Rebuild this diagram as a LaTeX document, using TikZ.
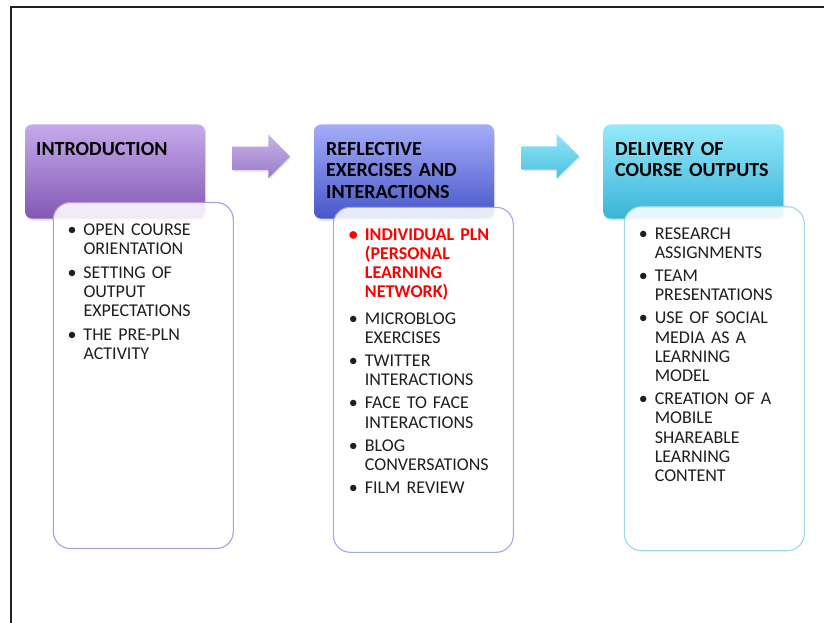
\documentclass[tikz,border=0pt]{standalone}
\usepackage{fontspec}
\setmainfont{Carlito}
\usetikzlibrary{shadows}
\definecolor{hAtop}{HTML}{C5AAEB}
\definecolor{hAbot}{HTML}{8358B4}
\definecolor{hBtop}{HTML}{A5ACF8}
\definecolor{hBbot}{HTML}{4657C9}
\definecolor{hCtop}{HTML}{96E9FA}
\definecolor{hCbot}{HTML}{38B4D8}
\definecolor{bAline}{HTML}{B39BD8}
\definecolor{bBline}{HTML}{A2AAE0}
\definecolor{bCline}{HTML}{9ED6E6}
\definecolor{aAtop}{HTML}{C9B3E9}
\definecolor{aAbot}{HTML}{9A7BC8}
\definecolor{aCtop}{HTML}{92E7F7}
\definecolor{aCbot}{HTML}{4CC0DE}
\definecolor{txt}{HTML}{1E1E1E}
\definecolor{redtxt}{HTML}{FF0000}
\newlength\bw
\setlength\bw{16pt}
\newcommand\bitem[1]{\noindent\hangindent=\bw\hangafter=1\makebox[\bw][l]{•}#1\par}
\tikzset{
  hdr/.style={rounded corners=7pt, inner sep=0pt, outer sep=0pt, anchor=north west,
    minimum width=180pt, minimum height=94pt,
    drop shadow={opacity=0.25, shadow xshift=1pt, shadow yshift=-2pt}},
  bodybox/.style={rounded corners=17pt, inner sep=0pt, outer sep=0pt, anchor=north west,
    minimum width=180pt, line width=1.1pt, fill=white, fill opacity=0.88, draw opacity=1},
  hdrtext/.style={anchor=base west, inner sep=0pt, align=left, text width=170pt,
    font=\fontsize{20}{21.6}\selectfont\bfseries, text=black},
  bodytext/.style={anchor=base west, inner sep=0pt, text width=165pt,
    font=\fontsize{18}{19.3}\selectfont, text=txt,
    execute at begin node={\raggedright}},
  blockarrow/.style={drop shadow={opacity=0.2, shadow xshift=1pt, shadow yshift=-1.5pt}}
}
\begin{document}
\begin{tikzpicture}[x=1pt,y=-1pt]
\useasboundingbox[fill=white] (0,0) rectangle (824,623);
% frame
\draw[line width=2pt, color=black!88] (10.5,623) -- (10.5,7.5) -- (824,7.5);
% headers
\node[hdr, top color=hAtop, bottom color=hAbot] (h1) at (25,124.5) {};
\node[hdr, top color=hBtop, bottom color=hBbot] (h2) at (314,124.5) {};
\node[hdr, top color=hCtop, bottom color=hCbot] (h3) at (603.3,124.5) {};
% block arrows
\shade[blockarrow, top color=aAtop, bottom color=aAbot]
  (232.3,146.5) -- (268.3,146.5) -- (268.3,134.3) -- (290,156.5)
  -- (268.3,178.3) -- (268.3,170) -- (232.3,170) -- cycle;
\shade[blockarrow, top color=aCtop, bottom color=aCbot]
  (521.7,146.3) -- (556.7,146.3) -- (556.7,134) -- (579.3,156.3)
  -- (556.7,178.3) -- (556.7,169.5) -- (521.7,169.5) -- cycle;
% bodies
\node[bodybox, draw=bAline, minimum height=346pt] (b1) at (53.3,202.5) {};
\node[bodybox, draw=bBline, minimum height=345pt] (b2) at (333.3,207.3) {};
\node[bodybox, draw=bCline, minimum height=344pt] (b3) at (624.3,206.7) {};
% header texts
\node[hdrtext] (t1) at (36,155) {INTRODUCTION};
\node[hdrtext] (t2) at (326,155) {REFLECTIVE\\EXERCISES AND\\INTERACTIONS};
\node[hdrtext] (t3) at (615,155) {DELIVERY OF\\COURSE OUTPUTS};
% body texts
\node[bodytext] (l1) at (67.3,235.5) {\parskip=4pt\relax
  \bitem{OPEN COURSE\newline ORIENTATION}
  \bitem{SETTING OF\newline OUTPUT\newline EXPECTATIONS}
  \bitem{THE PRE-PLN\newline ACTIVITY}};
\node[bodytext] (l2) at (348.7,240) {\parskip=3.8pt\relax
  {\color{redtxt}\bfseries\bitem{INDIVIDUAL PLN\newline (PERSONAL\newline LEARNING\newline NETWORK)}}\vspace{3pt}
  \bitem{MICROBLOG\newline EXERCISES}
  \bitem{TWITTER\newline INTERACTIONS}
  \bitem{FACE TO FACE\newline INTERACTIONS}
  \bitem{BLOG\newline CONVERSATIONS}
  \bitem{FILM REVIEW}};
\node[bodytext] (l3) at (638.6,239.3) {\parskip=3.6pt\relax
  \bitem{RESEARCH\newline ASSIGNMENTS}
  \bitem{TEAM\newline PRESENTATIONS}
  \bitem{USE OF SOCIAL\newline MEDIA AS A\newline LEARNING\newline MODEL}
  \bitem{CREATION OF A\newline MOBILE\newline SHAREABLE\newline LEARNING\newline CONTENT}};
\end{tikzpicture}
\end{document}
